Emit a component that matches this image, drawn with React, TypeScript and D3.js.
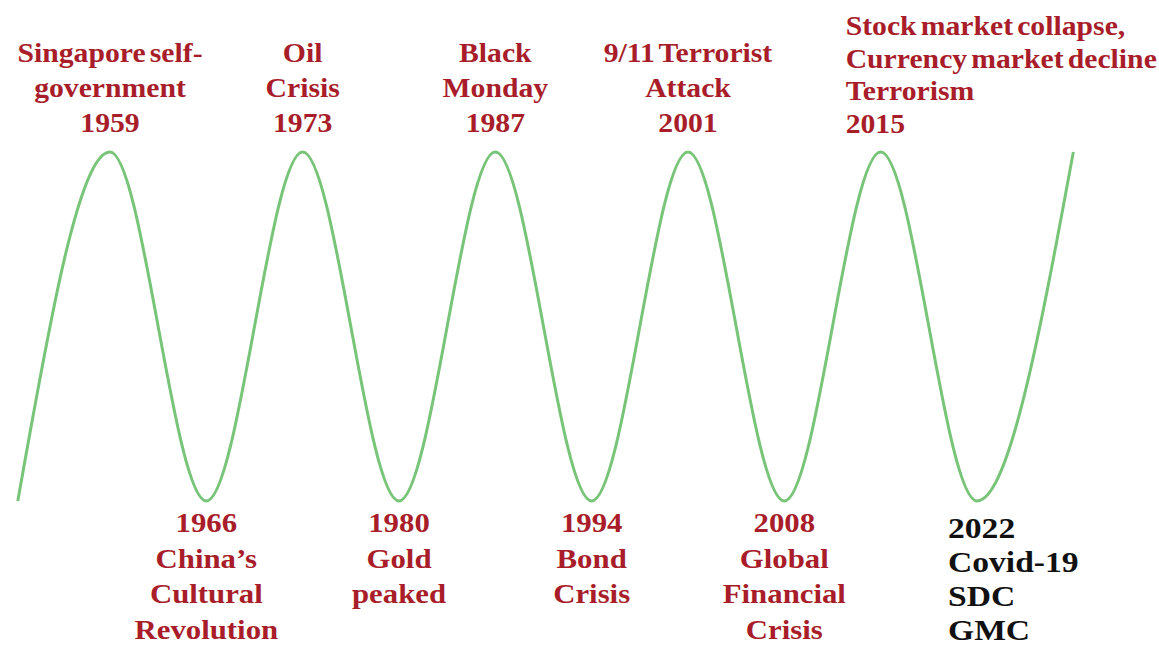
import React from "react";
import * as d3 from "d3";

// Wave key points: year and level (0 = trough, 1 = peak)
const waveYears = [1952.3, 1959, 1966, 1973, 1980, 1987, 1994, 2001, 2008, 2015, 2022, 2029];
const waveLevels = [0, 1, 0, 1, 0, 1, 0, 1, 0, 1, 0, 1];

// Events above the peaks
const topYears = [1959, 1973, 1987, 2001];
const topLabels = [
  ["Singapore self-", "government", "1959"],
  ["Oil", "Crisis", "1973"],
  ["Black", "Monday", "1987"],
  ["9/11 Terrorist", "Attack", "2001"],
];
const lastTopYear = 2015;
const lastTopLabel = ["Stock market collapse,", "Currency market decline", "Terrorism", "2015"];

// Events below the troughs
const bottomYears = [1966, 1980, 1994, 2008];
const bottomLabels = [
  ["1966", "China\u2019s", "Cultural", "Revolution"],
  ["1980", "Gold", "peaked"],
  ["1994", "Bond", "Crisis"],
  ["2008", "Global", "Financial", "Crisis"],
];
const lastBottomYear = 2022;
const lastBottomLabel = ["2022", "Covid-19", "SDC", "GMC"];

const W = 1159;
const H = 647;
const RED = "#a81d29";
const GREEN = "#78c478";
const FONT = "'Liberation Serif', 'Times New Roman', serif";

export default function App() {
  const x = d3.scaleLinear().domain([1959, 2022]).range([110, 977]);
  const y = d3.scaleLinear().domain([0, 1]).range([501, 152]);
  const pts = waveYears.map((yr, i) => [yr, waveLevels[i]] as [number, number]);
  const line = d3
    .line<[number, number]>()
    .x((d) => x(d[0]))
    .y((d) => y(d[1]))
    .curve(d3.curveMonotoneX);

  const sx = 1.1;
  const txt = (
    key: string,
    s: string,
    tx: number,
    ty: number,
    anchor: string,
    size: number,
    fill: string,
    scale = sx
  ) => (
    <text
      key={key}
      transform={`translate(${tx},${ty}) scale(${scale},1)`}
      textAnchor={anchor}
      fontFamily={FONT}
      fontWeight="bold"
      fontSize={size}
      fill={fill}
      wordSpacing={-3}
    >
      {s}
    </text>
  );

  return (
    <svg
      width={W}
      height={H}
      style={{ position: "absolute", left: 0, top: 0, background: "#fff" }}
    >
      <path d={line(pts) || ""} fill="none" stroke={GREEN} strokeWidth={3} />

      {topYears.map((yr, i) =>
        topLabels[i].map((s, j) =>
          txt(`t${i}-${j}`, s, x(yr), 132 - (topLabels[i].length - 1 - j) * 35, "middle", 27, RED)
        )
      )}
      {lastTopLabel.map((s, j) =>
        txt(`tl-${j}`, s, x(lastTopYear) - 35, 133 - (lastTopLabel.length - 1 - j) * 32.7, "start", 27, RED)
      )}

      {bottomYears.map((yr, i) =>
        bottomLabels[i].map((s, j) =>
          txt(`b${i}-${j}`, s, x(yr), 532 + j * 35.7, "middle", 28, RED)
        )
      )}
      {lastBottomLabel.map((s, j) =>
        txt(`bl-${j}`, s, x(lastBottomYear) - 29, 538 + j * 34, "start", 30, "#111", 1.12)
      )}
    </svg>
  );
}
